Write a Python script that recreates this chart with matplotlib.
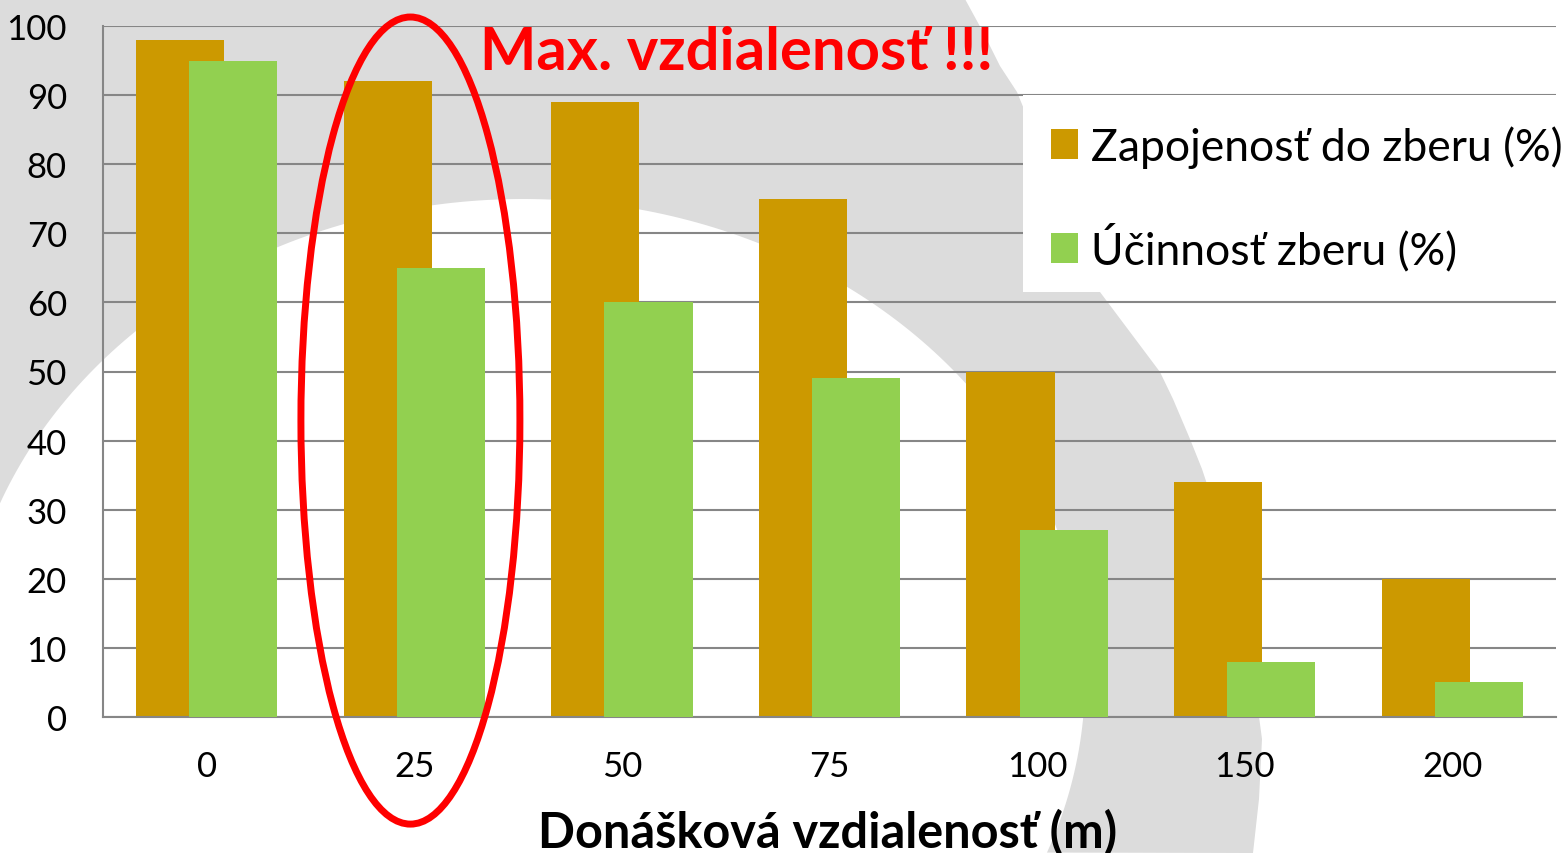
import numpy as np
import matplotlib.pyplot as plt
from matplotlib.patches import Polygon, Rectangle, Ellipse

# =========================
# DATA
# =========================
distances = ['0', '25', '50', '75', '100', '150', '200']
participation = [98, 92, 89, 75, 50, 34, 20]   # Zapojenosť do zberu (%)
efficiency = [95, 65, 60, 49, 27, 8, 5]        # Účinnosť zberu (%)
series_names = ['Zapojenosť do zberu (%)', 'Účinnosť zberu (%)']
y_ticks = [0, 10, 20, 30, 40, 50, 60, 70, 80, 90, 100]

ORANGE = '#CC9900'
GREEN = '#92D050'
GRID = '#868686'

plt.rcParams['font.family'] = ['Lato', 'DejaVu Sans']

W, H = 1565, 854
fig = plt.figure(figsize=(W / 100, H / 100), dpi=100)


def to_fig(pts):
    # pixel coords (origin top-left) -> figure fraction
    return [(x / W, 1 - y / H) for x, y in pts]


# =========================
# BACKGROUND SWOOSH (decoration)
# =========================
outer = [(965, 0), (983, 33), (1000, 67), (1017, 93), (1058, 193), (1100, 293),
         (1130, 333), (1160, 373), (1173, 400), (1190, 440), (1202, 470),
         (1212, 500), (1235, 600), (1254, 680), (1262, 740), (1259, 800), (1253, 854)]
t = np.linspace(-0.37, 2.77, 200)
inner = list(zip(523 + 562 * np.cos(t), 680 - 480 * np.sin(t)))
swoosh = [(0, 0)] + outer + inner + [(0, 505)]
fig.patches.append(Polygon(to_fig(swoosh), closed=True, transform=fig.transFigure,
                           facecolor='#DCDCDC', edgecolor='none', zorder=-1))

# =========================
# BAR CHART
# =========================
ax = fig.add_axes([103 / W, 1 - 718 / H, 1453 / W, 691 / H])
ax.set_facecolor('none')
ax.set_zorder(1)

x = np.arange(len(distances))
width, offset = 0.425, 0.128
b1 = ax.bar(x - offset, participation, width, color=ORANGE, zorder=2, label=series_names[0])
b2 = ax.bar(x + offset, efficiency, width, color=GREEN, zorder=3, label=series_names[1])

ax.set_xlim(-0.5, len(distances) - 0.5)
ax.set_ylim(0, 100)
ax.set_yticks(y_ticks)
ax.set_xticks(x)
ax.set_xticklabels(distances)
ax.yaxis.grid(True, color=GRID, linewidth=1.5)
ax.set_axisbelow(True)
ax.tick_params(axis='both', length=0, labelsize=25)
ax.tick_params(axis='y', pad=26)
ax.tick_params(axis='x', pad=24)
for s in ['top', 'right']:
    ax.spines[s].set_visible(False)
for s in ['left', 'bottom']:
    ax.spines[s].set_color(GRID)
    ax.spines[s].set_linewidth(1.5)

# red ellipse around the 25 m group
ax.add_patch(Ellipse((0.981, 42.9), 1.055, 116.8, fill=False, edgecolor='#FF0000',
                     linewidth=5, clip_on=False, zorder=6))

# =========================
# LEGEND (white box on top of grid)
# =========================
fig.patches.append(Rectangle((1023 / W, 1 - 293 / H), (W - 1023) / W, 197 / H,
                             transform=fig.transFigure, facecolor='white',
                             edgecolor='none', zorder=2))
leg = fig.legend(handles=[b1, b2], loc='upper left', bbox_to_anchor=(1051 / W, 1 - 126 / H),
                 frameon=False, fontsize=32, borderpad=0, borderaxespad=0,
                 handlelength=0.6, handleheight=0.67, handletextpad=0.3, labelspacing=1.25)
leg.set_zorder(3)

# =========================
# TEXTS
# =========================
fig.text(480 / W, 1 - 70 / H, 'Max. vzdialenosť !!!', color='#FF0000', fontsize=43,
         fontweight='bold', ha='left', va='baseline', zorder=4)
fig.text(828 / W, 1 - 848 / H, 'Donášková vzdialenosť (m)', color='black', fontsize=35,
         fontweight='bold', ha='center', va='baseline', zorder=4)

fig.savefig('out.png', dpi=100)
